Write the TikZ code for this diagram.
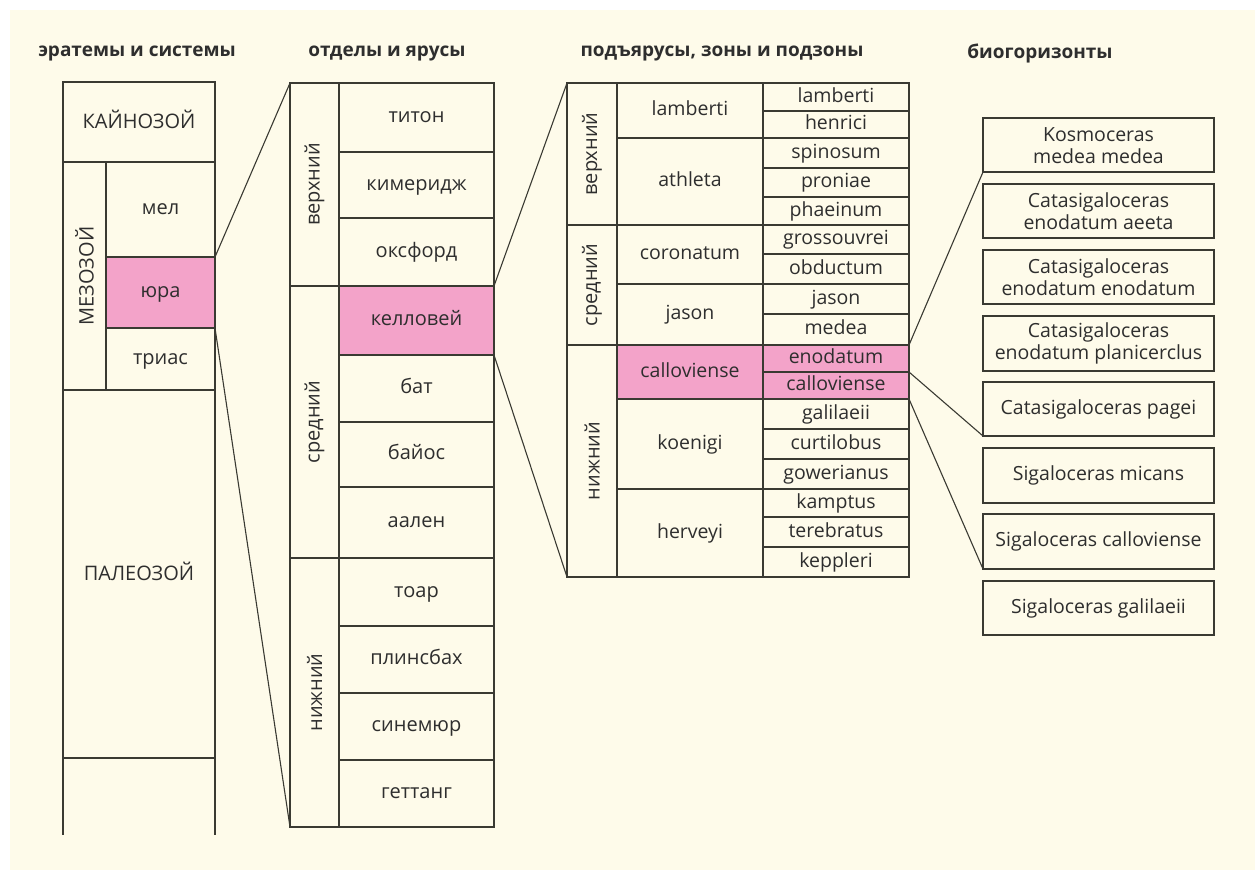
\documentclass[tikz,border=0pt]{standalone}
\usepackage{fontspec}
\setmainfont{Open Sans}
\definecolor{bgc}{HTML}{FEFBEA}
\definecolor{pinkc}{HTML}{F3A3C9}
\definecolor{linec}{HTML}{3A3A32}
\definecolor{txtc}{HTML}{2E2E2E}
\tikzset{
  cellst/.style={draw=linec, line width=1.2pt, rectangle, inner sep=0pt, outer sep=0pt,
    align=center, text=txtc, font=\fontsize{19.5}{22}\selectfont},
  cyr/.style={font=\fontsize{20}{22}\selectfont},
  hl/.style={fill=pinkc},
  conn/.style={draw=linec, line width=1.1pt},
  titlest/.style={font=\fontsize{19}{22}\selectfont\bfseries, text=txtc, inner sep=0pt},
}
\newcommand\cellbox[7][]{\node[cellst,#1,anchor=north west,minimum width={#5pt-#3pt},minimum height={#6pt-#4pt}] (#2) at (#3,#4) {\vphantom{Аbdgy}#7};}
\newcommand\vcell[7][]{\node[cellst,#1,anchor=north west,minimum width={#5pt-#3pt},minimum height={#6pt-#4pt}] (#2) at (#3,#4) {\rotatebox{90}{#7}};}
\begin{document}
\begin{tikzpicture}[x=1pt,y=-1pt]
\useasboundingbox (0,0) rectangle (1255,870);
\fill[white] (0,0) rectangle (1255,870);
\fill[bgc] (10,10) rectangle (1255,870);
% titles
\node[titlest] (t1) at (137,53) {эратемы и системы};
\node[titlest] (t2) at (387,53) {отделы и ярусы};
\node[titlest] (t3) at (722,53) {подъярусы, зоны и подзоны};
\node[titlest] (t4) at (1040,53) {биогоризонты};
% column 1
\cellbox[cyr]{kz}{63}{82}{215}{162}{КАЙНОЗОЙ}
\vcell[cyr]{mz}{63}{162}{106}{390}{МЕЗОЗОЙ}
\cellbox[cyr]{mel}{106}{162}{215}{257}{мел}
\cellbox[cyr,hl]{jura}{106}{257}{215}{328}{юра}
\cellbox[cyr]{trias}{106}{328}{215}{390}{триас}
\cellbox[cyr]{pz}{63}{390}{215}{758}{ПАЛЕОЗОЙ}
\coordinate (pzl) at (63,835);
\coordinate (pzr) at (215,835);
\draw[conn,line width=1.2pt] (pz.south west) -- (pzl);
\draw[conn,line width=1.2pt] (pz.south east) -- (pzr);
% column 2
\vcell[cyr]{up2}{290}{83}{339}{286}{верхний}
\vcell[cyr]{mid2}{290}{286}{339}{558}{средний}
\vcell[cyr]{low2}{290}{558}{339}{827}{нижний}
\cellbox[cyr]{tit}{339}{83}{494}{152}{титон}
\cellbox[cyr]{kim}{339}{152}{494}{218}{кимеридж}
\cellbox[cyr]{oks}{339}{218}{494}{286}{оксфорд}
\cellbox[cyr,hl]{kel}{339}{286}{494}{355}{келловей}
\cellbox[cyr]{bat}{339}{355}{494}{422}{бат}
\cellbox[cyr]{bai}{339}{422}{494}{487}{байос}
\cellbox[cyr]{aal}{339}{487}{494}{558}{аален}
\cellbox[cyr]{toa}{339}{558}{494}{626}{тоар}
\cellbox[cyr]{pli}{339}{626}{494}{693}{плинсбах}
\cellbox[cyr]{sin}{339}{693}{494}{760}{синемюр}
\cellbox[cyr]{get}{339}{760}{494}{827}{геттанг}
% column 3 substages
\vcell[cyr]{up3}{567}{83}{617}{225}{верхний}
\vcell[cyr]{mid3}{567}{225}{617}{345}{средний}
\vcell[cyr]{low3}{567}{345}{617}{577}{нижний}
% zones
\cellbox{zlam}{617}{83}{763}{138}{lamberti}
\cellbox{zath}{617}{138}{763}{225}{athleta}
\cellbox{zcor}{617}{225}{763}{284}{coronatum}
\cellbox{zjas}{617}{284}{763}{345}{jason}
\cellbox[hl]{zcal}{617}{345}{763}{399}{calloviense}
\cellbox{zkoe}{617}{399}{763}{489}{koenigi}
\cellbox{zher}{617}{489}{763}{577}{herveyi}
% subzones
\cellbox{s1}{763}{83}{909}{111}{lamberti}
\cellbox{s2}{763}{111}{909}{138}{henrici}
\cellbox{s3}{763}{138}{909}{168}{spinosum}
\cellbox{s4}{763}{168}{909}{197}{proniae}
\cellbox{s5}{763}{197}{909}{225}{phaeinum}
\cellbox{s6}{763}{225}{909}{254}{grossouvrei}
\cellbox{s7}{763}{254}{909}{284}{obductum}
\cellbox{s8}{763}{284}{909}{314}{jason}
\cellbox{s9}{763}{314}{909}{345}{medea}
\cellbox[hl]{eno}{763}{345}{909}{372}{enodatum}
\cellbox[hl]{cal}{763}{372}{909}{399}{calloviense}
\cellbox{s12}{763}{399}{909}{429}{galilaeii}
\cellbox{s13}{763}{429}{909}{459}{curtilobus}
\cellbox{s14}{763}{459}{909}{489}{gowerianus}
\cellbox{s15}{763}{489}{909}{517}{kamptus}
\cellbox{s16}{763}{517}{909}{547}{terebratus}
\cellbox{s17}{763}{547}{909}{577}{keppleri}
% biohorizons
\cellbox{b1}{983}{118}{1214}{172}{Kosmoceras\\medea medea}
\cellbox{b2}{983}{184}{1214}{238}{Catasigaloceras\\enodatum aeeta}
\cellbox{b3}{983}{250}{1214}{304}{Catasigaloceras\\enodatum enodatum}
\cellbox{b4}{983}{316}{1214}{371}{Catasigaloceras\\enodatum planicerclus}
\cellbox{b5}{983}{382}{1214}{436}{Catasigaloceras pagei}
\cellbox{b6}{983}{448}{1214}{503}{Sigaloceras micans}
\cellbox{b7}{983}{514}{1214}{569}{Sigaloceras calloviense}
\cellbox{b8}{983}{581}{1214}{635}{Sigaloceras galilaeii}
% connectors
\draw[conn] (jura.north east) -- (up2.north west);
\draw[conn] (jura.south east) -- (low2.south west);
\draw[conn] (kel.north east) -- (up3.north west);
\draw[conn] (kel.south east) -- (low3.south west);
\draw[conn] (eno.north east) -- (b1.south west);
\draw[conn] (eno.south east) -- (b5.south west);
\draw[conn] (cal.south east) -- (b7.south west);
\end{tikzpicture}
\end{document}
